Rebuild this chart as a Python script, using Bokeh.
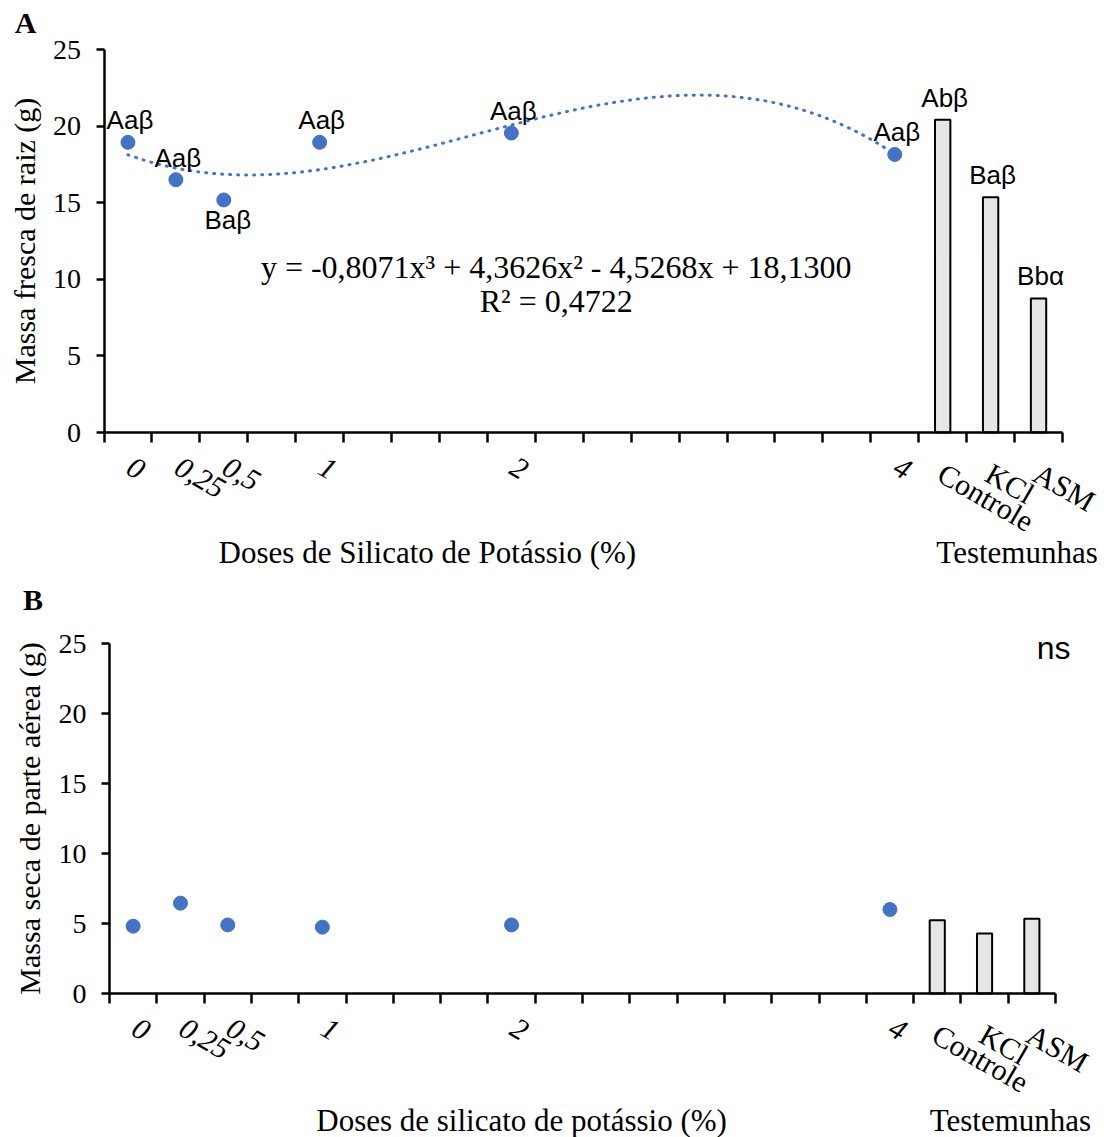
import math
import numpy as np
from bokeh.plotting import figure
from bokeh.models import Range1d, FixedTicker, Label, CustomJSTickFormatter
from bokeh.layouts import column
from bokeh.embed import file_html
from bokeh.resources import INLINE
from bokeh.core.properties import value

# ---------------- data ----------------
doses = [0, 0.25, 0.5, 1, 2, 4]
dose_labels = ["0", "0,25", "0,5", "1", "2", "4"]
controls = ["Controle", "KCl", "ASM"]
y_ticks = [0, 5, 10, 15, 20, 25]

fresh_root = [18.94, 16.5, 15.18, 18.94, 19.55, 18.15]
fresh_root_ctrl = [20.42, 15.35, 8.75]
fresh_letters = ["Aaβ", "Aaβ", "Baβ", "Aaβ", "Aaβ", "Aaβ"]
fresh_letters_ctrl = ["Abβ", "Baβ", "Bbα"]
fresh_letter_side = ["above", "above", "below", "above", "above", "above"]
trend_coef = [-0.8071, 4.3626, -4.5268, 18.13]
trend_eq = "y = -0,8071x³ + 4,3626x² - 4,5268x + 18,1300"
trend_r2 = "R² = 0,4722"

dry_shoot = [4.81, 6.45, 4.9, 4.74, 4.9, 6.0]
dry_shoot_ctrl = [5.24, 4.29, 5.34]

# ---------------- styling / layout ----------------
SERIF = "Liberation Serif"
SANS = "Liberation Sans"
BLUE = "#4472C4"
BAR_FILL = "#E7E6E6"
W = 1110

step = 0.25
ctrl_x = [doses[-1] + step * (i + 1) for i in range(len(controls))]
x0, x1 = doses[0] - step / 2, ctrl_x[-1] + step / 2
n_slots = int(round((x1 - x0) / step))
boundaries = [x0 + step * k for k in range(n_slots + 1)]
Y0, Y1 = y_ticks[0], y_ticks[-1]


def make_fig(h, left, right, top, bottom, ylabel):
    # the plotting frame fills the whole figure; axes are pinned at the data origin
    ppx = (right - left) / (x1 - x0)
    ppy = (bottom - top) / (Y1 - Y0)
    xr = Range1d(x0 - left / ppx, x1 + (W - right) / ppx)
    yr = Range1d(Y0 - (h - bottom) / ppy, Y1 + top / ppy)
    p = figure(width=W, height=h, x_range=xr, y_range=yr,
               output_backend="svg", toolbar_location=None,
               min_border=0, min_border_left=0, min_border_right=0,
               min_border_top=0, min_border_bottom=0)
    p.outline_line_color = None
    p.grid.visible = False
    p.background_fill_color = "white"

    xa = p.xaxis[0]
    xa.fixed_location = Y0
    xa.bounds = (x0, x1)
    xa.ticker = FixedTicker(ticks=boundaries)
    xa.formatter = CustomJSTickFormatter(code="return ''")
    xa.axis_line_width = 2.5
    xa.axis_line_color = "black"
    xa.major_tick_line_width = 2.5
    xa.major_tick_line_color = "black"
    xa.major_tick_out = 10
    xa.major_tick_in = 0
    xa.minor_tick_line_color = None
    xa.major_label_text_font_size = "1px"

    ya = p.yaxis[0]
    ya.fixed_location = x0
    ya.bounds = (Y0, Y1)
    ya.ticker = FixedTicker(ticks=y_ticks)
    ya.axis_line_width = 2.5
    ya.axis_line_color = "black"
    ya.major_tick_line_width = 2.5
    ya.major_tick_line_color = "black"
    ya.major_tick_out = 8
    ya.major_tick_in = 0
    ya.minor_tick_line_color = None
    ya.major_label_text_font = SERIF
    ya.major_label_text_font_size = "28px"
    ya.major_label_text_color = "black"
    ya.major_label_standoff = 15
    ya.axis_label = ylabel
    ya.axis_label_text_font = SERIF
    ya.axis_label_text_font_size = "30px"
    ya.axis_label_text_font_style = "normal"
    ya.axis_label_text_color = "black"
    ya.axis_label_standoff = 10
    return p


def add_xlabels(p):
    for xv, lab in zip(doses, dose_labels):
        p.add_layout(Label(x=xv, y=Y0, text=lab, angle=-math.pi / 6,
                           text_align="left", text_baseline="top",
                           x_offset=6, y_offset=-24,
                           text_font=SERIF, text_font_size="30px",
                           text_font_style="italic", text_color="black"))
    for xv, lab in zip(ctrl_x, controls):
        p.add_layout(Label(x=xv, y=Y0, text=lab, angle=-math.pi / 6,
                           text_align="left", text_baseline="top",
                           x_offset=6, y_offset=-24,
                           text_font=SERIF, text_font_size="30px",
                           text_font_style="normal", text_color="black"))


def add_text(p, x, y, text, size="31px", font=SERIF, style="normal", align="center"):
    p.add_layout(Label(x=x, y=y, text=text, text_align=align, text_baseline="middle",
                       text_font=font, text_font_size=size, text_font_style=style,
                       text_color="black"))


# ---------------- panel A ----------------
pA = make_fig(580, 103.5, 1062, 49, 432, "Massa fresca de raiz (g)")
pA.vbar(x=ctrl_x, top=fresh_root_ctrl, width=0.08, fill_color=BAR_FILL,
        line_color="black", line_width=2)
xs = np.linspace(doses[0], doses[-1], 300)
ys = np.polyval(trend_coef, xs)
pA.line(xs, ys, line_color=BLUE, line_width=3, line_dash="1 7", line_cap="round")
pA.scatter(doses, fresh_root, size=14, color=BLUE)

above_i = [i for i, s in enumerate(fresh_letter_side) if s == "above"]
below_i = [i for i, s in enumerate(fresh_letter_side) if s == "below"]
pA.text(x=[doses[i] for i in above_i] + ctrl_x,
        y=[fresh_root[i] for i in above_i] + fresh_root_ctrl,
        text=[fresh_letters[i] for i in above_i] + fresh_letters_ctrl,
        text_font=value(SANS), text_font_size="26px", text_align="center",
        text_baseline="bottom", y_offset=-7, x_offset=2, text_color="black")
pA.text(x=[doses[i] for i in below_i], y=[fresh_root[i] for i in below_i],
        text=[fresh_letters[i] for i in below_i],
        text_font=value(SANS), text_font_size="26px", text_align="center",
        text_baseline="top", y_offset=5, x_offset=4, text_color="black")

add_text(pA, 2.234, 10.83, trend_eq, size="32px")
add_text(pA, 2.234, 8.61, trend_r2, size="32px")
add_xlabels(pA)
add_text(pA, 1.562, -7.83, "Doses de Silicato de Potássio (%)")
add_text(pA, 4.638, -7.83, "Testemunhas")
add_text(pA, -0.534, 26.76, "A", size="30px", style="bold")

# ---------------- panel B ----------------
pB = make_fig(557, 109, 1055, 63, 413, "Massa seca de parte aérea (g)")
pB.vbar(x=ctrl_x, top=dry_shoot_ctrl, width=0.08, fill_color=BAR_FILL,
        line_color="black", line_width=2)
pB.scatter(doses, dry_shoot, size=14, color=BLUE)
add_text(pB, 4.865, 24.7, "ns", size="32px", font=SANS)
add_xlabels(pB)
add_text(pB, 2.053, -9.07, "Doses de silicato de potássio (%)")
add_text(pB, 4.637, -9.07, "Testemunhas")
add_text(pB, -0.529, 28.14, "B", size="30px", style="bold")

layout = column(pA, pB, spacing=0)
open("out.html", "w").write(file_html(layout, INLINE))
